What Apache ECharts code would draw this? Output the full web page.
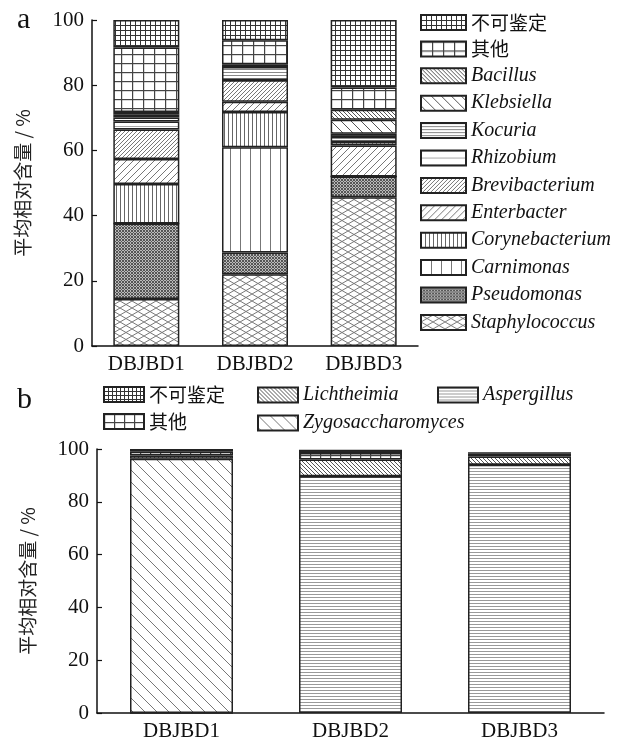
<!DOCTYPE html>
<html><head><meta charset="utf-8">
<script src="https://cdn.jsdelivr.net/npm/echarts@6/dist/echarts.min.js"></script>
<style>html,body{margin:0;padding:0;background:#fff;}#a{position:absolute;left:0;top:0;width:627px;height:375px;}#b{position:absolute;left:0;top:375px;width:627px;height:367px;}</style>
</head><body><div id="a"></div><div id="b"></div>
<script>
// ---------- data ----------
const samples = ['DBJBD1', 'DBJBD2', 'DBJBD3'];
// chart a (bacteria), bottom-to-top stacking order
const bacteriaNames = ['Staphylococcus','Pseudomonas','Carnimonas','Corynebacterium','Enterbacter','Brevibacterium','Rhizobium','Kocuria','Klebsiella','Bacillus','其他','不可鉴定'];
const staphylococcus = [14.4, 22.0, 45.6];
const pseudomonas    = [23.2, 6.7, 6.4];
const carnimonas     = [0, 32.3, 0];
const corynebacterium= [12.1, 10.8, 0];
const enterbacter    = [7.7, 3.1, 9.5];
const brevibacterium = [9.0, 6.6, 1.1];
const rhizobium      = [2.5, 0, 1.5];
const kocuria        = [1.2, 4.1, 1.0];
const klebsiella     = [0.8, 0, 4.3];
const bacillus       = [0.9, 0.8, 3.1];
const otherA         = [19.8, 7.4, 6.8];
const unidentifiedA  = [8.4, 6.2, 20.7];
const bacteriaValues = [staphylococcus, pseudomonas, carnimonas, corynebacterium, enterbacter, brevibacterium, rhizobium, kocuria, klebsiella, bacillus, otherA, unidentifiedA];
// chart b (fungi)
const fungiNames = ['Aspergillus','Zygosaccharomyces','Lichtheimia','其他','不可鉴定'];
const aspergillus       = [0, 89.7, 94.0];
const zygosaccharomyces = [96.3, 0, 0];
const lichtheimia       = [1.2, 6.3, 3.2];
const otherB            = [1.5, 2.5, 1.0];
const unidentifiedB     = [1.0, 1.2, 0.6];
const fungiValues = [aspergillus, zygosaccharomyces, lichtheimia, otherB, unidentifiedB];
const yTicks = [0, 20, 40, 60, 80, 100];

// ---------- patterns ----------
function pat(w, h, draw, bg) {
  const c = document.createElement('canvas'); c.width = w; c.height = h;
  const x = c.getContext('2d'); x.fillStyle = bg || '#fff'; x.fillRect(0, 0, w, h);
  draw(x, w, h); return { image: c, repeat: 'repeat' };
}
function grid(sx, sy, col, lw) { return pat(sx, sy, (x, w, h) => { x.fillStyle = col; x.fillRect(0, 0, lw, h); x.fillRect(0, 0, w, lw); }); }
function hl(sy, col, lw) { return pat(4, sy, (x, w, h) => { x.fillStyle = col; x.fillRect(0, 0, w, lw); }); }
function vl(sx, col, lw) { return pat(sx, 4, (x, w, h) => { x.fillStyle = col; x.fillRect(0, 0, lw, h); }); }
function diag(s, dir, col, lw) {
  return pat(s, s, (x, w, h) => {
    x.strokeStyle = col; x.lineWidth = lw; x.beginPath();
    for (let k = -1; k <= 1; k++) {
      if (dir > 0) { x.moveTo(k * s, s); x.lineTo(k * s + s, 0); }
      else { x.moveTo(k * s, 0); x.lineTo(k * s + s, s); }
    }
    x.stroke();
  });
}
function cross(sx, sy, col, lw, bg) {
  return pat(sx, sy, (x, w, h) => {
    x.strokeStyle = col; x.lineWidth = lw; x.beginPath();
    for (let k = -1; k <= 1; k++) {
      x.moveTo(k * w, 0); x.lineTo(k * w + w, h);
      x.moveTo(k * w, h); x.lineTo(k * w + w, 0);
    }
    x.stroke();
  }, bg);
}
const P = {
  '不可鉴定': grid(5, 5, '#333', 1),
  '其他': grid(11, 9, '#444', 1.2),
  'Bacillus': diag(4, -1, '#555', 1),
  'Klebsiella': diag(10, -1, '#555', 1),
  'Kocuria': hl(3, '#888', 1),
  'Rhizobium': hl(7, '#aaa', 1),
  'Brevibacterium': diag(4, 1, '#777', 1),
  'Enterbacter': diag(7, 1, '#777', 1),
  'Corynebacterium': vl(4, '#666', 1),
  'Carnimonas': vl(10, '#777', 1),
  'Pseudomonas': cross(3, 3, '#555', 1, '#bbb'),
  'Staphylococcus': cross(12, 7, '#777', 1, '#fff')
};
const PB = {
  '不可鉴定': grid(4, 4, '#333', 1),
  '其他': grid(10, 8, '#444', 1.2),
  'Lichtheimia': diag(4, -1, '#555', 1),
  'Zygosaccharomyces': diag(12, -1, '#777', 1),
  'Aspergillus': hl(3, '#999', 1)
};

const serif = "'Liberation Serif', 'Times New Roman', 'Noto Sans CJK SC', serif";
const isCJK = n => /[\u4e00-\u9fff]/.test(n);

function yAxis(nameGap) {
  return {
    type: 'value', min: 0, max: 100, interval: 20,
    name: '平均相对含量 / %', nameLocation: 'middle', nameRotate: 90, nameGap: nameGap,
    nameTextStyle: { fontFamily: "'Noto Sans CJK SC', sans-serif", fontSize: 19, color: '#222' },
    axisLine: { show: true, lineStyle: { color: '#111', width: 1.5 } },
    axisTick: { show: true, inside: true, length: 5, lineStyle: { color: '#111', width: 1.2 } },
    axisLabel: { fontFamily: serif, fontSize: 21, color: '#111', margin: 8, formatter: v => yTicks.includes(v) ? String(v) : '' },
    splitLine: { show: false }
  };
}
function xAxis() {
  return {
    type: 'category', data: samples,
    axisLine: { lineStyle: { color: '#111', width: 1.5 } },
    axisTick: { show: true, inside: true, alignWithLabel: true, length: 5, lineStyle: { color: '#111', width: 1 } },
    axisLabel: { fontFamily: serif, fontSize: 21, color: '#111', margin: 8 }
  };
}
function legendItem(n) {
  return { name: n, icon: 'rect', textStyle: { fontStyle: isCJK(n) ? 'normal' : 'italic', fontFamily: isCJK(n) ? "'Noto Sans CJK SC', sans-serif" : serif, fontSize: isCJK(n) ? 19 : 20, color: '#111' } };
}

// ---------- chart a ----------
const ca = echarts.init(document.getElementById('a'), null, { renderer: 'canvas' });
ca.setOption({
  animation: false,
  title: { text: 'a', left: 12, top: 0, textStyle: { fontFamily: serif, fontSize: 30, fontWeight: 'normal', color: '#111' } },
  grid: { left: 92, right: 209, top: 20, bottom: 28 },
  xAxis: xAxis(),
  yAxis: yAxis(60),
  legend: {
    orient: 'vertical', left: 415, top: 8, icon: 'rect', itemWidth: 45, itemHeight: 15, itemGap: 7.4,
    data: bacteriaNames.slice().reverse().map(legendItem)
  },
  series: bacteriaNames.map((n, i) => ({
    name: n, type: 'bar', stack: 'a', barWidth: 66, data: bacteriaValues[i],
    itemStyle: { color: P[n], borderColor: '#222', borderWidth: 1.5 }
  }))
});

// ---------- chart b ----------
const cb = echarts.init(document.getElementById('b'), null, { renderer: 'canvas' });
const lb = { itemWidth: 40, itemHeight: 15, itemGap: 8, orient: 'vertical', icon: 'rect' };
cb.setOption({
  animation: false,
  title: { text: 'b', left: 12, top: 5, textStyle: { fontFamily: serif, fontSize: 30, fontWeight: 'normal', color: '#111' } },
  grid: { left: 97, right: 23, top: 74, bottom: 26 },
  xAxis: xAxis(),
  yAxis: yAxis(60),
  legend: [
    Object.assign({ left: 98, top: 5, data: ['不可鉴定', '其他'].map(legendItem) }, lb),
    Object.assign({ left: 252, top: 5, data: ['Lichtheimia', 'Zygosaccharomyces'].map(legendItem) }, lb),
    Object.assign({ left: 432, top: 5, data: ['Aspergillus'].map(legendItem) }, lb)
  ],
  series: fungiNames.map((n, i) => ({
    name: n, type: 'bar', stack: 'b', barWidth: 103, data: fungiValues[i],
    itemStyle: { color: PB[n], borderColor: '#222', borderWidth: 1.5 }
  }))
});
</script></body></html>
